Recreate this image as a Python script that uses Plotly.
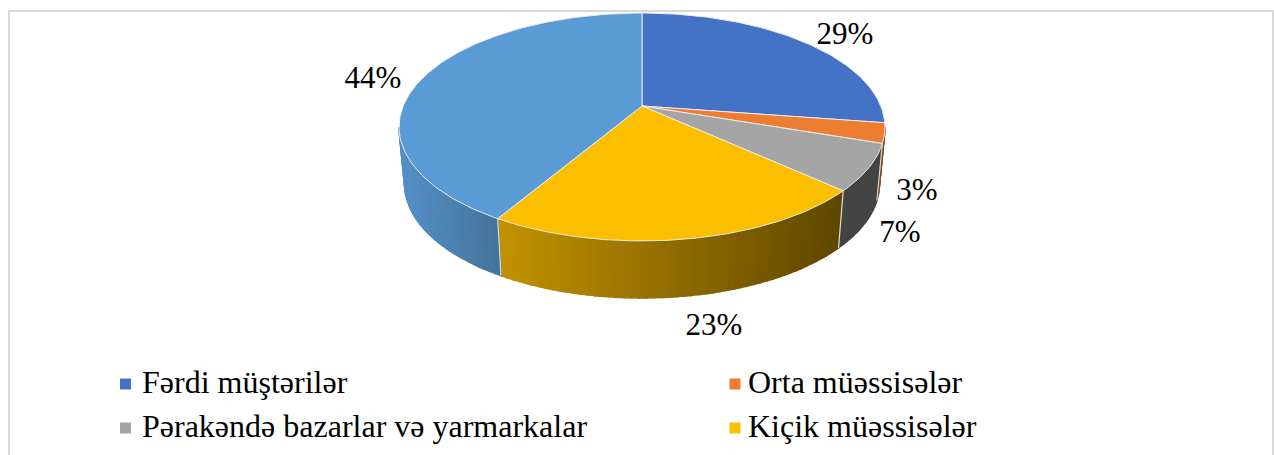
import math
import plotly.graph_objects as go

categories = ["Fərdi müştərilər", "Orta müəssisələr", "Pərakəndə bazarlar və yarmarkalar", "Kiçik müəssisələr", ""]
values = [29, 3, 7, 23, 44]
labels = ["29%", "3%", "7%", "23%", "44%"]
top_colors = ["#4472c4", "#ed7d31", "#a5a5a5", "#fbbf00", "#5b9bd5"]
wall_left = ["#2f5597", "#8a4a1c", "#444444", "#c29200", "#5490c8"]
wall_right = ["#2f5597", "#8a4a1c", "#444444", "#5f4700", "#457399"]

# Pie geometry (perspective-projected disc)
CX, CY = 642, 106
A, B, K = 238.8, 110.1, 0.184
DEPTH, INSET = 57, 0.977
SERIF = "Liberation Serif"


def top_pt(t):
    u, v = math.sin(t), math.cos(t)
    d = 1 + K * v
    return CX + A * u / d, CY - B * v / d


def bot_pt(t):
    x, y = top_pt(t)
    return CX + INSET * (x - CX), y + DEPTH


def lerp_hex(c1, c2, f):
    a = [int(c1[i:i + 2], 16) for i in (1, 3, 5)]
    b = [int(c2[i:i + 2], 16) for i in (1, 3, 5)]
    return "rgb(%d,%d,%d)" % tuple(round(p + (q - p) * f) for p, q in zip(a, b))


total = sum(values)
edges = [0.0]
for val in values:
    edges.append(edges[-1] + val / total * 2 * math.pi)

fig = go.Figure()
T_MIN, T_MAX = math.radians(100.6), math.radians(259.4)
STEP = math.radians(1.5)


def wall_quads(i):
    a, b = max(edges[i], T_MIN), min(edges[i + 1], T_MAX)
    if b <= a:
        return
    n = max(2, int((b - a) / STEP))
    x_all = [top_pt(a + (b - a) * j / n)[0] for j in range(n + 1)]
    lo, hi = min(x_all), max(x_all)
    for j in range(n):
        t1, t2 = a + (b - a) * j / n, a + (b - a) * (j + 1) / n
        p = [top_pt(t1), top_pt(t2), bot_pt(t2), bot_pt(t1), top_pt(t1)]
        xm = (p[0][0] + p[1][0]) / 2
        f = (xm - lo) / max(hi - lo, 1)
        col = lerp_hex(wall_left[i], wall_right[i], f)
        fig.add_trace(go.Scatter(
            x=[q[0] for q in p], y=[q[1] for q in p], mode="lines", fill="toself",
            fillcolor=col, line=dict(color=col, width=1.6), hoverinfo="skip", showlegend=False))


for i in range(len(values)):
    wall_quads(i)

# Light seams on the wall between slices
for e in edges[2:5]:
    a, b = top_pt(e), bot_pt(e)
    fig.add_trace(go.Scatter(x=[a[0], b[0]], y=[a[1], b[1]], mode="lines",
                             line=dict(color="rgba(235,235,235,0.9)", width=1.2),
                             hoverinfo="skip", showlegend=False))

# Top face
for i in range(len(values)):
    n = max(6, int((edges[i + 1] - edges[i]) / math.radians(1)))
    pts = [(CX, CY)] + [top_pt(edges[i] + (edges[i + 1] - edges[i]) * j / n) for j in range(n + 1)] + [(CX, CY)]
    fig.add_trace(go.Scatter(
        x=[q[0] for q in pts], y=[q[1] for q in pts], mode="lines", fill="toself",
        fillcolor=top_colors[i], line=dict(color="rgba(238,238,238,0.95)", width=1),
        name=categories[i] or "Digər", hovertemplate="%{fullData.name}<extra></extra>", showlegend=False))

# Percentage labels
label_pos = [(845, 36), (917, 192), (900, 234), (714, 327), (373, 80)]
for lab, (x, y) in zip(labels, label_pos):
    fig.add_trace(go.Scatter(x=[x], y=[y], mode="text", text=[lab], cliponaxis=False,
                             textfont=dict(family=SERIF, size=31, color="#000000"),
                             hoverinfo="skip", showlegend=False))

# Legend rows: marker position, label position
legend_marker = [(125.5, 384), (735, 384), (125.5, 428), (735, 428)]
legend_text = [(142, 385), (748, 385), (142, 429), (748, 429)]
for i, ((mx, my), (tx, ty)) in enumerate(zip(legend_marker, legend_text)):
    fig.add_trace(go.Scatter(x=[mx], y=[my], mode="markers", marker=dict(symbol="square", size=11, color=top_colors[i]),
                             hoverinfo="skip", showlegend=False))
    fig.add_trace(go.Scatter(x=[tx], y=[ty], mode="text", text=[categories[i]], textposition="middle right",
                             textfont=dict(family=SERIF, size=32, color="#000000"), cliponaxis=False,
                             hoverinfo="skip", showlegend=False))

# Clipped line of the surrounding document, only descenders remain visible
fig.add_trace(go.Scatter(x=[167, 527], y=[-8, -8], mode="text", text=["y", "ş"], cliponaxis=False,
                         textfont=dict(family=SERIF, size=29, color="#000000"),
                         hoverinfo="skip", showlegend=False))

fig.update_layout(
    width=1274, height=455, margin=dict(l=0, r=0, t=0, b=0),
    paper_bgcolor="#ffffff", plot_bgcolor="#ffffff", showlegend=False,
    xaxis=dict(range=[0, 1274], visible=False, fixedrange=True),
    yaxis=dict(range=[455, 0], visible=False, fixedrange=True),
    shapes=[dict(type="rect", xref="x", yref="y", x0=9, y0=11, x1=1273, y1=480,
                 line=dict(color="#d9d9d9", width=2), layer="below")],
)
fig.write_html("out.html", config={"displayModeBar": False},
               post_script="document.body.style.margin='0';document.body.style.overflow='hidden';")
